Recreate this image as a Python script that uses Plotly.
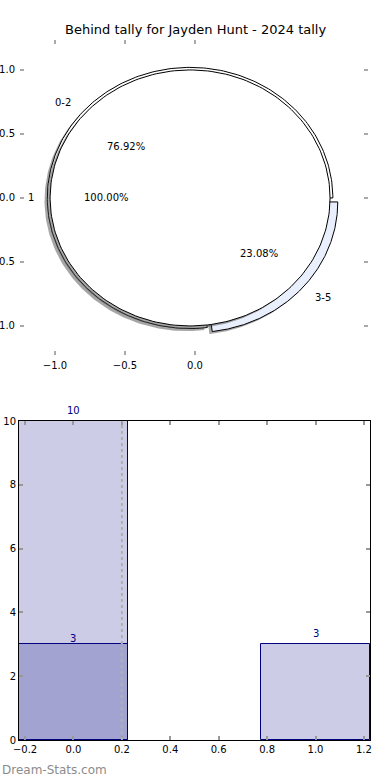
import numpy as np
import plotly.graph_objects as go

# ---------------- data ----------------
title_text = "Behind tally for Jayden Hunt - 2024 tally"
inner_labels = ["1"]
inner_values = [13]
outer_labels = ["0-2", "3-5"]
outer_values = [10, 3]
outer_colors = ["#ffffff", "#e9effc"]
inner_colors = ["#ffffff"]
outer_explode = [0.0, 0.047]

bar_x = [0, 1]
series_a = [10, 3]
series_b_x = [0]
series_b = [3]
marker_line_x = 0.2

pie_xticks = [-1.0, -0.5, 0.0]
pie_yticks = [-1.0, -0.5, 0.0, 0.5, 1.0]
bar_xticks = [-0.2, 0.0, 0.2, 0.4, 0.6, 0.8, 1.0, 1.2]
bar_yticks = [0, 2, 4, 6, 8, 10]

# ---------------- style ----------------
FONT = "DejaVu Sans"
W, H = 390, 780
CX, CY = -0.035, 0.0
R_OUT, R_IN = 1.02, 1.0
SHADOW = (-0.02, -0.02)
NAVY = "#000080"


def wedge(cx, cy, r, t1, t2, n=240):
    th = np.radians(np.linspace(t1, t2, n))
    if abs(t2 - t1) >= 359.999:
        return cx + r * np.cos(th), cy + r * np.sin(th)
    xs = np.concatenate([[cx], cx + r * np.cos(th), [cx]])
    ys = np.concatenate([[cy], cy + r * np.sin(th), [cy]])
    return xs, ys


def pie_geometry(values, explode):
    vals = np.asarray(values, dtype=float)
    fr = vals / vals.sum()
    out = []
    t = 0.0
    for i, f in enumerate(fr):
        t2 = t + 360.0 * f
        mid = np.radians((t + t2) / 2)
        dx = explode[i] * np.cos(mid)
        dy = explode[i] * np.sin(mid)
        out.append(dict(t1=t, t2=t2, mid=mid, cx=CX + dx, cy=CY + dy, frac=f))
        t = t2
    return out


fig = go.Figure()

outer = pie_geometry(outer_values, outer_explode)
inner = pie_geometry(inner_values, [0.0] * len(inner_values))

shadow_col = "rgba(77,77,77,0.5)"
for g in outer:
    xs, ys = wedge(g["cx"] + SHADOW[0], g["cy"] + SHADOW[1], R_OUT, g["t1"], g["t2"])
    fig.add_trace(go.Scatter(x=xs, y=ys, mode="lines", fill="toself", fillcolor=shadow_col,
                             line=dict(width=0), hoverinfo="skip", xaxis="x", yaxis="y"))
for g, c in zip(outer, outer_colors):
    xs, ys = wedge(g["cx"], g["cy"], R_OUT, g["t1"], g["t2"])
    fig.add_trace(go.Scatter(x=xs, y=ys, mode="lines", fill="toself", fillcolor=c,
                             line=dict(width=1, color="black"), hoverinfo="skip", xaxis="x", yaxis="y"))
for g in inner:
    xs, ys = wedge(g["cx"] + SHADOW[0], g["cy"] + SHADOW[1], R_IN, g["t1"], g["t2"])
    fig.add_trace(go.Scatter(x=xs, y=ys, mode="lines", fill="toself", fillcolor=shadow_col,
                             line=dict(width=0), hoverinfo="skip", xaxis="x", yaxis="y"))
for g, c in zip(inner, inner_colors):
    xs, ys = wedge(g["cx"], g["cy"], R_IN, g["t1"], g["t2"])
    fig.add_trace(go.Scatter(x=xs, y=ys, mode="lines", fill="toself", fillcolor=c,
                             line=dict(width=1, color="black"), hoverinfo="skip", xaxis="x", yaxis="y"))

annotations = []


def pie_texts(geo, labels, r):
    for g, lab in zip(geo, labels):
        lx = g["cx"] + 1.1 * r * np.cos(g["mid"])
        ly = g["cy"] + 1.1 * r * np.sin(g["mid"])
        annotations.append(dict(x=lx, y=ly, xref="x", yref="y", text=lab, showarrow=False,
                                xanchor="left" if lx > 0 else "right", yanchor="middle",
                                font=dict(family=FONT, size=10, color="black")))
        px = g["cx"] + 0.6 * r * np.cos(g["mid"])
        py = g["cy"] + 0.6 * r * np.sin(g["mid"])
        annotations.append(dict(x=px, y=py, xref="x", yref="y", text="%.2f%%" % (100 * g["frac"]),
                                showarrow=False, xanchor="center", yanchor="middle",
                                font=dict(family=FONT, size=10, color="black")))


pie_texts(outer, outer_labels, R_OUT)
pie_texts(inner, inner_labels, R_IN)

# ---------------- bars ----------------
bar_fill = "rgba(0,0,128,0.2)"
fig.add_trace(go.Bar(x=bar_x, y=series_a, width=0.45, marker=dict(color=bar_fill, line=dict(color=NAVY, width=1)),
                     xaxis="x2", yaxis="y2", hoverinfo="skip"))
fig.add_trace(go.Bar(x=series_b_x, y=series_b, width=0.45, marker=dict(color=bar_fill, line=dict(color=NAVY, width=1)),
                     xaxis="x2", yaxis="y2", hoverinfo="skip"))
for xv, yv in zip(bar_x, series_a):
    annotations.append(dict(x=xv, y=yv, xref="x2", yref="y2", text=str(yv), showarrow=False,
                            xanchor="center", yanchor="bottom", yshift=3,
                            font=dict(family=FONT, size=10, color=NAVY)))
for xv, yv in zip(series_b_x, series_b):
    annotations.append(dict(x=xv, y=yv, xref="x2", yref="y2", text=str(yv), showarrow=False,
                            xanchor="center", yanchor="bottom", yshift=-2,
                            font=dict(family=FONT, size=10, color=NAVY)))

annotations.append(dict(x=0, y=1 - 770 / H, xref="paper", yref="paper", text="Dream-Stats.com",
                        showarrow=False, xanchor="left", yanchor="middle",
                        font=dict(family=FONT, size=12, color="#8c8c8c")))
annotations.append(dict(x=195 / W, y=1 - 30 / H, xref="paper", yref="paper", text=title_text,
                        showarrow=False, xanchor="center", yanchor="middle",
                        font=dict(family=FONT, size=13, color="black")))

tickfont = dict(family=FONT, size=10, color="black")
pie_tick = dict(showgrid=False, zeroline=False, showline=False, ticks="inside", ticklen=4,
                tickwidth=1.5, tickcolor="#aaaaaa", automargin=False, tickfont=tickfont)
bar_tick = dict(showgrid=False, zeroline=False, showline=True, linecolor="black", linewidth=1,
                ticks="inside", ticklen=4, tickwidth=2, tickcolor="#999999", mirror="ticks",
                automargin=False, tickfont=tickfont)
PX = [20 / W, 368 / W]
PY = [1 - 355 / H, 1 - 40 / H]
XR = [-1.25, 1.236]
YR = [-1.227, 1.234]
fig.update_layout(
    width=W, height=H, autosize=False, margin=dict(l=0, r=0, t=0, b=0),
    paper_bgcolor="white", plot_bgcolor="white", showlegend=False, barmode="overlay",
    bargap=0,
    font=dict(family=FONT),
    xaxis=dict(domain=PX, anchor="y", range=XR, tickvals=pie_xticks, ticklabelstandoff=3,
               ticktext=["\u22121.0", "\u22120.5", "0.0"], **pie_tick),
    yaxis=dict(domain=PY, anchor="x", range=YR, tickvals=pie_yticks, ticklabelstandoff=4,
               ticktext=["\u22121.0", "\u22120.5", "0.0", "0.5", "1.0"], **pie_tick),
    xaxis3=dict(domain=PX, anchor="y", overlaying="x", side="top", range=XR, tickvals=pie_xticks,
                showticklabels=False, **pie_tick),
    yaxis3=dict(domain=PY, anchor="x", overlaying="y", side="right", range=YR, tickvals=pie_yticks,
                showticklabels=False, **pie_tick),
    xaxis2=dict(domain=[19 / W, 370 / W], anchor="y2", range=[-0.225, 1.225], tickvals=bar_xticks,
                ticktext=["\u22120.2", "0.0", "0.2", "0.4", "0.6", "0.8", "1.0", "1.2"], **bar_tick),
    yaxis2=dict(domain=[1 - 740 / H, 1 - 421 / H], anchor="x2", range=[0, 10], tickvals=bar_yticks,
                **bar_tick),
    annotations=annotations,
    shapes=[dict(type="line", xref="x2", yref="y2", x0=marker_line_x, x1=marker_line_x, y0=0, y1=10,
                 line=dict(color="#b0b0b0", width=2, dash="dot"))],
)
fig.add_trace(go.Scatter(x=[None], y=[None], xaxis="x3", yaxis="y3", hoverinfo="skip", showlegend=False))

fig.write_html("out.html", config={"displayModeBar": False},
               post_script="document.body.style.margin='0';document.body.style.overflow='hidden';")
